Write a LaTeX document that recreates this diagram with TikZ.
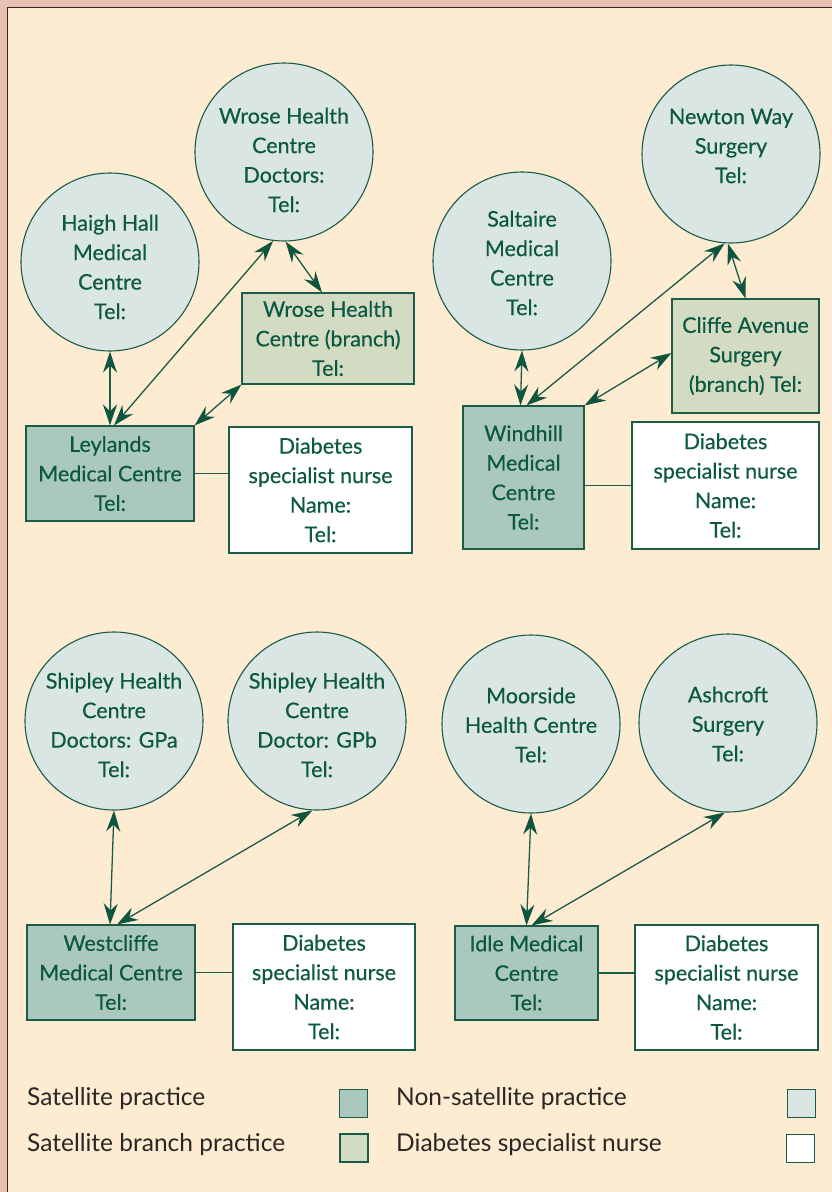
\documentclass[tikz,border=0pt]{standalone}
\usepackage{fontspec}
\setmainfont{Lato}
\newfontfamily\nodefont{Lato}[FakeBold=0.4]
\usetikzlibrary{arrows.meta,calc}
\definecolor{pinkbg}{HTML}{E8C1B3}
\definecolor{creambg}{HTML}{FDEBD2}
\definecolor{framec}{HTML}{3A2A24}
\definecolor{stroke}{HTML}{1A5C48}
\definecolor{textgreen}{HTML}{0C5841}
\definecolor{circfill}{HTML}{DAE6E4}
\definecolor{satfill}{HTML}{ABC8BE}
\definecolor{branchfill}{HTML}{D3DCC3}
\definecolor{legtext}{HTML}{2A2624}
\definecolor{tipc}{HTML}{0E5540}
\tikzset{
  circ/.style={circle, draw=stroke, fill=circfill, line width=1.1pt, minimum size=178pt, inner sep=0pt},
  txt/.style={text=textgreen, align=center, font=\nodefont\fontsize{21.5}{29.5}\selectfont, inner sep=0pt},
  boxnode/.style={rectangle, draw=stroke, line width=1.1pt, inner sep=0pt, text=textgreen, align=center, font=\nodefont\fontsize{21.5}{29.5}\selectfont},
  satbox/.style={boxnode, fill=satfill},
  branchbox/.style={boxnode, fill=branchfill},
  nursebox/.style={boxnode, fill=white},
  link/.style={draw=stroke, line width=1.3pt, {Stealth[length=21pt,width=14pt,inset=7pt,color=tipc]}-{Stealth[length=21pt,width=14pt,inset=7pt,color=tipc]}},
  plainline/.style={draw=stroke, line width=1.1pt},
  legtxt/.style={text=legtext, font=\fontsize{24.5}{28}\selectfont, inner sep=0pt, anchor=base west},
  legbox/.style={rectangle, draw=stroke, line width=1.5pt, minimum size=28pt, inner sep=0pt}
}
\begin{document}
\begin{tikzpicture}[x=1pt,y=-1pt]
\useasboundingbox (0,0) rectangle (832,1192);
\fill[pinkbg] (0,0) rectangle (832,1192);
\fill[creambg] (8,8) rectangle (832,1192);
\draw[framec, line width=1.6pt] (7.5,1192) -- (7.5,7.5) -- (832,7.5);

% ---------- top-left cluster ----------
\node[circ] (haigh) at (110,262) {};
\node[txt] (haighT) at ([yshift=-5pt]haigh.center) {Haigh Hall\\Medical\\Centre\\Tel:};
\node[circ] (wrose) at (284,152) {};
\node[txt] (wroseT) at ([yshift=-8pt]wrose.center) {Wrose Health\\Centre\\Doctors:\\Tel:};
\node[branchbox, minimum width=172pt, minimum height=91pt] (wbranch) at (328,338.5) {Wrose Health\\Centre (branch)\\Tel:};
\node[satbox, minimum width=168pt, minimum height=95pt] (leylands) at (110,473.5) {Leylands\\Medical Centre\\Tel:};
\node[nursebox, minimum width=183pt, minimum height=126pt] (nurseA) at (320.5,490) {Diabetes\\specialist nurse\\Name:\\Tel:};

\draw[link] (haigh.south) -- (leylands.north);
\draw[link] ([xshift=4pt]leylands.north) -- (wrose.263);
\draw[link] (wrose.271) -- ([xshift=-6pt]wbranch.north);
\draw[link] (leylands.north east) -- (wbranch.south west);
\draw[plainline] (leylands.east) -- (leylands.east -| nurseA.west);

% ---------- top-right cluster ----------
\node[circ] (saltaire) at (522,261) {};
\node[txt] (saltaireT) at ([yshift=-2pt]saltaire.center) {Saltaire\\Medical\\Centre\\Tel:};
\node[circ] (newton) at (731,154) {};
\node[txt] (newtonT) at ([yshift=8pt]newton.center) {Newton Way\\Surgery\\Tel:};
\node[branchbox, minimum width=147pt, minimum height=114pt] (cliffe) at (745.5,356) {Cliffe Avenue\\Surgery\\(branch) Tel:};
\node[satbox, minimum width=121pt, minimum height=143pt] (windhill) at (523.5,477.5) {Windhill\\Medical\\Centre\\Tel:};
\node[nursebox, minimum width=187pt, minimum height=127pt] (nurseB) at (725.5,485.5) {Diabetes\\specialist nurse\\Name:\\Tel:};

\draw[link] (saltaire.south) -- ([xshift=-3pt]windhill.north);
\draw[link] ([xshift=3pt]windhill.north) -- (newton.266);
\draw[link] (windhill.north east) -- ([yshift=3pt]cliffe.west);
\draw[link] (newton.268) -- (cliffe.north);
\draw[plainline] (windhill.east |- nurseB.west) -- (nurseB.west);

% ---------- bottom-left cluster ----------
\node[circ] (gpa) at (114,721) {};
\node[txt] (gpaT) at ([yshift=-4pt]gpa.center) {Shipley Health\\Centre\\Doctors: GPa\\Tel:};
\node[circ] (gpb) at (317,721) {};
\node[txt] (gpbT) at ([yshift=-4pt]gpb.center) {Shipley Health\\Centre\\Doctor: GPb\\Tel:};
\node[satbox, minimum width=168pt, minimum height=95pt] (westcliffe) at (111,972.5) {Westcliffe\\Medical Centre\\Tel:};
\node[nursebox, minimum width=182pt, minimum height=126pt] (nurseC) at (324,987) {Diabetes\\specialist nurse\\Name:\\Tel:};

\draw[link] (gpa.south) -- ([xshift=-1pt]westcliffe.north);
\draw[link] ([xshift=6pt]westcliffe.north) -- (gpb.267);
\draw[plainline] (westcliffe.east) -- (westcliffe.east -| nurseC.west);

% ---------- bottom-right cluster ----------
\node[circ] (moorside) at (531,724) {};
\node[txt] (moorsideT) at ([yshift=-1pt]moorside.center) {Moorside\\Health Centre\\Tel:};
\node[circ] (ashcroft) at (728,723) {};
\node[txt] (ashcroftT) at ([yshift=-1pt]ashcroft.center) {Ashcroft\\Surgery\\Tel:};
\node[satbox, minimum width=143pt, minimum height=94pt] (idle) at (526.5,973) {Idle Medical\\Centre\\Tel:};
\node[nursebox, minimum width=183pt, minimum height=125pt] (nurseD) at (726.5,987.5) {Diabetes\\specialist nurse\\Name:\\Tel:};

\draw[link] (moorside.south) -- (idle.north);
\draw[link] ([xshift=5pt]idle.north) -- (ashcroft.268);
\draw[plainline] (idle.east) -- (idle.east -| nurseD.west);

% ---------- legend ----------
\node[legtxt] (l1) at (27,1105) {Satellite practice};
\node[legtxt] (l2) at (27,1151) {Satellite branch practice};
\node[legtxt] (l3) at (396,1105) {Non-satellite practice};
\node[legtxt] (l4) at (396,1151) {Diabetes specialist nurse};
\node[legbox, fill=satfill] (b1) at (353.5,1103.5) {};
\node[legbox, fill=branchfill] (b2) at (354,1148) {};
\node[legbox, fill=circfill] (b3) at (801.5,1103.5) {};
\node[legbox, fill=white] (b4) at (800.5,1148.5) {};
\end{tikzpicture}
\end{document}
